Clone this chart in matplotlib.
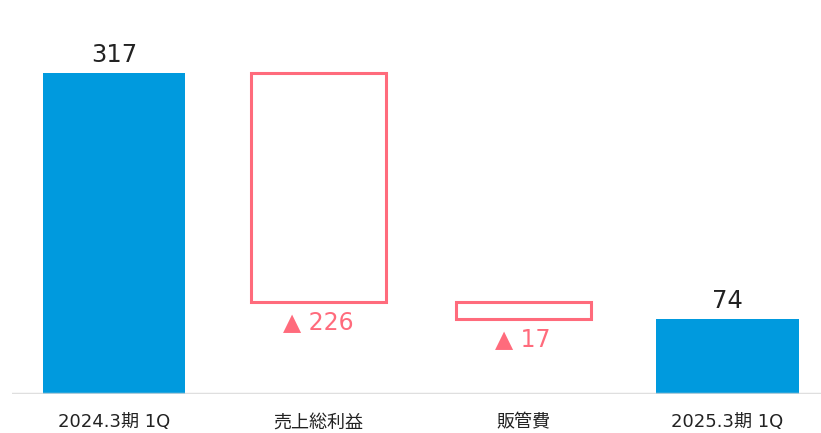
import matplotlib
matplotlib.use("Agg")
import matplotlib.pyplot as plt

# Operating profit bridge (百万円)
categories = ["2024.3期 1Q", "売上総利益", "販管費", "2025.3期 1Q"]
values = [317, -226, -17, 74]
kinds = ["total", "delta", "delta", "total"]

BLUE = "#009ade"
PINK = "#ff6b7c"
TEXT = "#222222"
FONT = ["DejaVu Sans", "Noto Sans CJK JP"]
plt.rcParams["font.family"] = FONT

W, H = 821, 433
fig = plt.figure(figsize=(W / 100, H / 100), dpi=100)
ax = fig.add_axes([12 / W, 39 / H, 1 - 12 / W, 1 - 39 / H])

running = 0
for i, (v, k) in enumerate(zip(values, kinds)):
    if k == "total":
        ax.bar(i, v, width=0.695, bottom=0, color=BLUE, zorder=2)
        ax.annotate(f"{v}", (i, v), xytext=(0, 4), textcoords="offset points",
                    ha="center", va="bottom", fontsize=17.5, color=TEXT)
        running = v
    else:
        top = running
        bottom = running + v
        ax.bar(i, top - bottom, width=0.66, bottom=bottom, facecolor="white",
               edgecolor=PINK, linewidth=2.2, zorder=2)
        ax.annotate(f"▲ {abs(v)}", (i, bottom), xytext=(0, -6),
                    textcoords="offset points", ha="center", va="top",
                    fontsize=17, color=PINK)
        running = bottom

# baseline drawn over the bars
ax.axhline(0, color="#d8d8d8", linewidth=2.5, alpha=0.8, zorder=3)

ax.set_xlim(-0.5, (W - 114) / 204.5)
ax.set_ylim(0, 394 / 1.013)
ax.set_xticks(range(len(categories)))
ax.set_xticklabels(categories, fontsize=13, color=TEXT)
ax.tick_params(axis="x", length=0, pad=14)
ax.set_yticks([])
for s in ax.spines.values():
    s.set_visible(False)

fig.savefig("out.png", dpi=100)
